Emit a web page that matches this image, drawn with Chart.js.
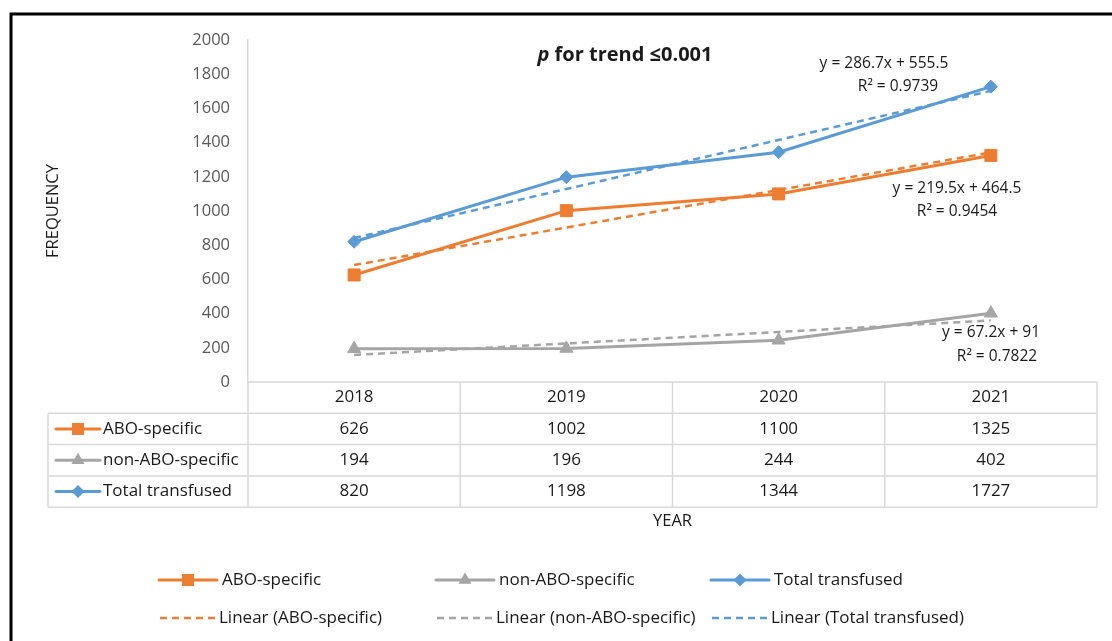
<!DOCTYPE html>
<html>
<head>
<meta charset="utf-8">
<style>
  html, body { margin: 0; padding: 0; background: #fff; }
</style>
<script src="https://cdn.jsdelivr.net/npm/chart.js@4.4.1/dist/chart.umd.min.js"></script>
</head>
<body>
<canvas id="chart" width="1112" height="641"></canvas>
<script>
const years = ["2018", "2019", "2020", "2021"];
const aboSpecific = [626, 1002, 1100, 1325];
const nonAboSpecific = [194, 196, 244, 402];
const totalTransfused = [820, 1198, 1344, 1727];

// linear trendlines as printed on the chart (x = 1..4)
const aboTrend = [684, 903.5, 1123, 1342.5];
const nonAboTrend = [158.2, 225.4, 292.6, 359.8];
const totalTrend = [842.2, 1128.9, 1415.6, 1702.3];

const seriesNames = ["ABO-specific", "non-ABO-specific", "Total transfused"];
const trendNames = ["Linear (ABO-specific)", "Linear (non-ABO-specific)", "Linear (Total transfused)"];
const equations = [
  ["y = 286.7x + 555.5", "R² = 0.9739"],
  ["y = 219.5x + 464.5", "R² = 0.9454"],
  ["y = 67.2x + 91", "R² = 0.7822"],
];
const trendNote = "for trend ≤0.001";

const ORANGE = "#ED7D31";
const GRAY = "#A5A5A5";
const BLUE = "#5B9BD5";
const FONT = "'Open Sans', 'Noto Sans', sans-serif";

function drawMarker(ctx, style, x, y, color) {
  ctx.save();
  ctx.fillStyle = color;
  ctx.beginPath();
  if (style === "rect") {
    ctx.rect(x - 6, y - 6, 12, 12);
  } else if (style === "triangle") {
    ctx.moveTo(x, y - 7.5);
    ctx.lineTo(x + 6.5, y + 3.75);
    ctx.lineTo(x - 6.5, y + 3.75);
    ctx.closePath();
  } else {
    ctx.moveTo(x - 6.5, y);
    ctx.lineTo(x, y - 6.5);
    ctx.lineTo(x + 6.5, y);
    ctx.lineTo(x, y + 6.5);
    ctx.closePath();
  }
  ctx.fill();
  ctx.restore();
}

function sample(ctx, x1, x2, y, color, dashed, marker) {
  ctx.save();
  ctx.strokeStyle = color;
  ctx.lineWidth = dashed ? 2.5 : 3;
  ctx.lineCap = "round";
  if (dashed) { ctx.setLineDash([7, 5]); ctx.lineCap = "butt"; }
  ctx.beginPath();
  ctx.moveTo(x1, y);
  ctx.lineTo(x2, y);
  ctx.stroke();
  ctx.restore();
  if (marker) drawMarker(ctx, marker, (x1 + x2) / 2, y, color);
}

const extras = {
  id: "extras",
  beforeDraw(chart) {
    const ctx = chart.ctx;
    ctx.save();
    ctx.fillStyle = "#fff";
    ctx.fillRect(0, 0, chart.width, chart.height);
    ctx.strokeStyle = "#000";
    ctx.lineWidth = 3;
    ctx.beginPath();
    ctx.moveTo(11, 641);
    ctx.lineTo(11, 14);
    ctx.lineTo(1112, 14);
    ctx.stroke();
    ctx.restore();
  },
  afterDraw(chart) {
    const ctx = chart.ctx;
    const area = chart.chartArea;
    const xs = chart.scales.x;
    const colors = [ORANGE, GRAY, BLUE];
    const markers = ["rect", "triangle", "rectRot"];
    const rows = [aboSpecific, nonAboSpecific, totalTransfused];
    const cellW = (area.right - area.left) / years.length;
    const rowH = 31.3;
    const top = area.bottom;
    const tableLeft = 48;

    ctx.save();
    // table grid
    ctx.strokeStyle = "#d9d9d9";
    ctx.lineWidth = 1.5;
    ctx.beginPath();
    ctx.moveTo(area.left, top);
    ctx.lineTo(area.right, top);
    for (let r = 1; r <= 4; r++) {
      ctx.moveTo(tableLeft, top + r * rowH);
      ctx.lineTo(area.right, top + r * rowH);
    }
    ctx.moveTo(tableLeft, top + rowH);
    ctx.lineTo(tableLeft, top + 4 * rowH);
    for (let i = 0; i <= years.length; i++) {
      const x = area.left + i * cellW;
      ctx.moveTo(x, top);
      ctx.lineTo(x, top + 4 * rowH);
    }
    ctx.stroke();

    // table text
    ctx.fillStyle = "#1a1a1a";
    ctx.font = "17px " + FONT;
    ctx.textAlign = "center";
    ctx.textBaseline = "middle";
    years.forEach((yr, i) => {
      const cx = xs.getPixelForValue(i);
      ctx.fillText(yr, cx, top + rowH / 2);
      rows.forEach((vals, r) => {
        ctx.fillText(String(vals[i]), cx, top + (r + 1.5) * rowH);
      });
    });
    ctx.textAlign = "left";
    seriesNames.forEach((name, r) => {
      const cy = top + (r + 1.5) * rowH;
      sample(ctx, 56, 100, cy, colors[r], false, markers[r]);
      ctx.fillStyle = "#1a1a1a";
      ctx.fillText(name, 103, cy);
    });

    // axis titles
    ctx.font = "16.5px " + FONT;
    ctx.textAlign = "center";
    ctx.fillText("YEAR", (area.left + area.right) / 2, 521);
    ctx.save();
    ctx.translate(53, (area.top + area.bottom) / 2);
    ctx.rotate(-Math.PI / 2);
    ctx.fillText("FREQUENCY", 0, 0);
    ctx.restore();

    // trend note
    ctx.font = "bold italic 20px " + FONT;
    const pW = ctx.measureText("p ").width;
    ctx.font = "bold 20px " + FONT;
    const restW = ctx.measureText(trendNote).width;
    const nx = 625 - (pW + restW) / 2;
    ctx.textAlign = "left";
    ctx.font = "bold italic 20px " + FONT;
    ctx.fillText("p", nx, 55);
    ctx.font = "bold 20px " + FONT;
    ctx.fillText(trendNote, nx + pW, 55);

    // equations
    ctx.font = "15.5px " + FONT;
    ctx.textAlign = "center";
    const eqPos = [[884, 64, 898, 87], [957, 189, 957, 212], [991, 333, 997, 357]];
    equations.forEach((eq, i) => {
      const p = eqPos[i];
      ctx.fillText(eq[0], p[0], p[1]);
      ctx.fillText(eq[1], p[2], p[3]);
    });

    // legend
    ctx.font = "17px " + FONT;
    ctx.textAlign = "left";
    const cols = [159, 436, 711];
    seriesNames.forEach((name, i) => {
      sample(ctx, cols[i], cols[i] + 58, 580, colors[i], false, markers[i]);
      ctx.fillStyle = "#1a1a1a";
      ctx.fillText(name, cols[i] + 63, 580);
    });
    trendNames.forEach((name, i) => {
      sample(ctx, cols[i] + 1, cols[i] + 56, 618, colors[i], true, null);
      ctx.fillStyle = "#1a1a1a";
      ctx.fillText(name, cols[i] + 60, 618);
    });
    ctx.restore();
  }
};

function trendSet(label, data, color) {
  return {
    label, data, borderColor: color, borderWidth: 2.5, borderDash: [7, 5],
    pointRadius: 0, tension: 0, fill: false, order: 0
  };
}
function seriesSet(label, data, color, style, radius) {
  return {
    label, data, borderColor: color, backgroundColor: color,
    pointBackgroundColor: color, pointBorderColor: color, pointBorderWidth: 1,
    borderWidth: 3, pointStyle: style, pointRadius: radius, tension: 0, fill: false, order: 1
  };
}

new Chart(document.getElementById("chart"), {
  type: "line",
  data: {
    labels: years,
    datasets: [
      trendSet(trendNames[0], aboTrend, ORANGE),
      trendSet(trendNames[1], nonAboTrend, GRAY),
      trendSet(trendNames[2], totalTrend, BLUE),
      seriesSet(seriesNames[0], aboSpecific, ORANGE, "rect", 8.5),
      seriesSet(seriesNames[1], nonAboSpecific, GRAY, "triangle", 7.5),
      seriesSet(seriesNames[2], totalTransfused, BLUE, "rectRot", 6.5),
    ],
  },
  options: {
    responsive: false,
    animation: false,
    layout: { padding: { left: 0, right: 15, top: 40, bottom: 259 } },
    plugins: { legend: { display: false }, tooltip: { enabled: false } },
    scales: {
      x: { display: false, offset: true },
      y: {
        min: 0, max: 2000,
        ticks: {
          stepSize: 200, color: "#595959", padding: 18,
          font: { family: FONT, size: 16.5 },
          callback: (v) => String(v),
        },
        grid: { display: false, drawTicks: false },
        border: { color: "#d9d9d9", width: 1.5 },
        afterFit(scale) { scale.width = 248; },
      },
    },
  },
  plugins: [extras],
});
</script>
</body>
</html>
